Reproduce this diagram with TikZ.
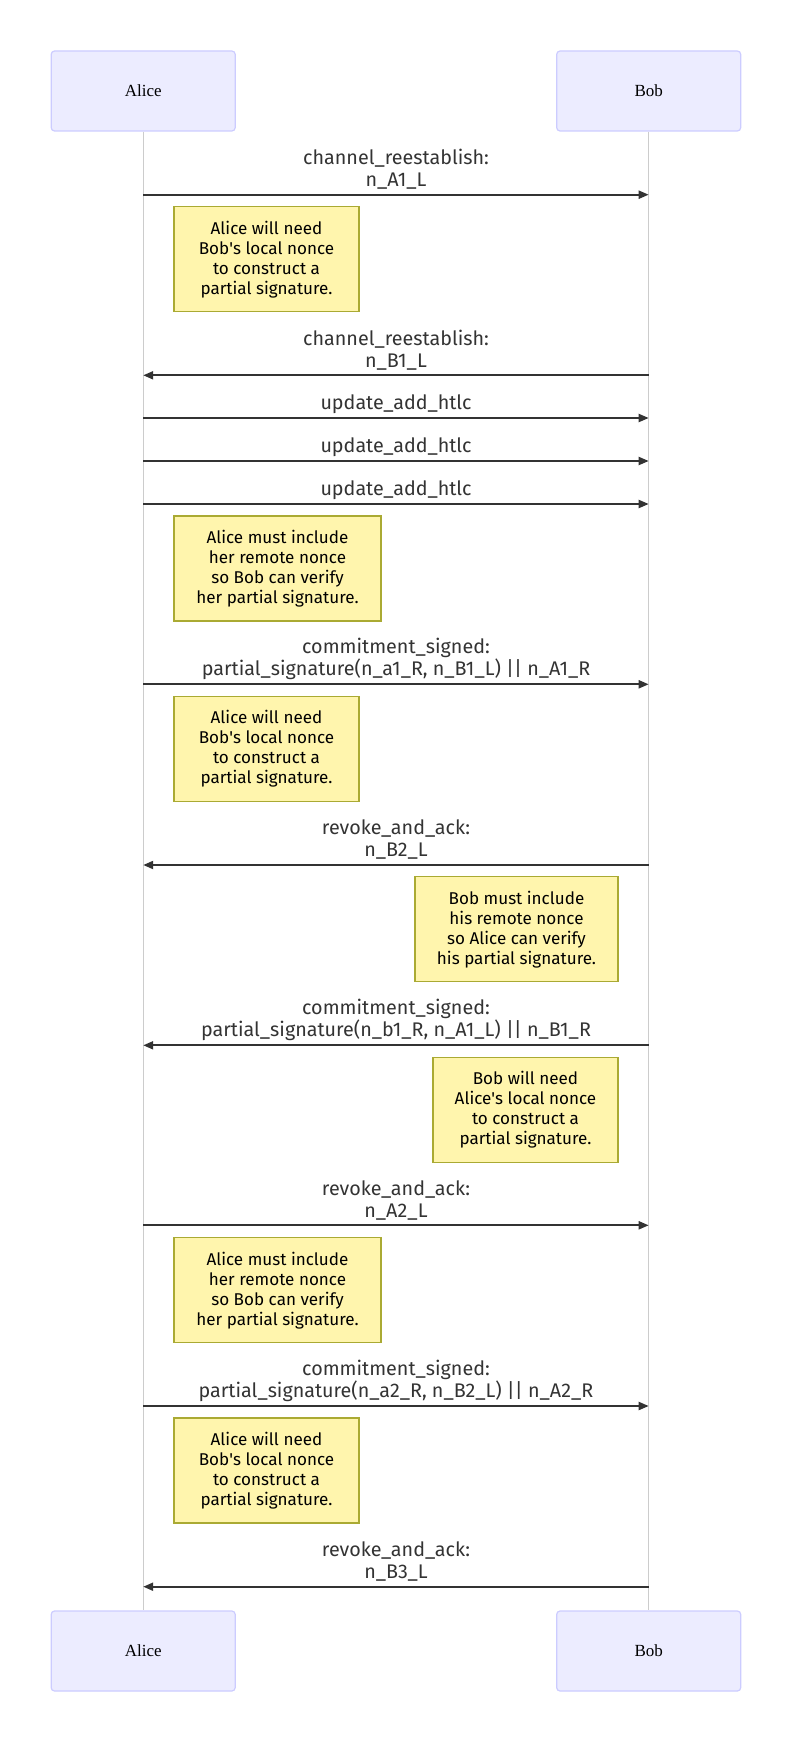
\documentclass[tikz,border=0pt]{standalone}
\usepackage{fontspec}
\setmainfont{Fira Sans}
\newfontfamily\actorfont{Liberation Serif}
\usetikzlibrary{arrows.meta}
\definecolor{actfill}{HTML}{ECECFF}
\definecolor{actline}{HTML}{CCCCFF}
\definecolor{notefill}{HTML}{FFF5AD}
\definecolor{noteline}{HTML}{AAAA33}
\definecolor{msgcol}{HTML}{333333}
\definecolor{lifecol}{HTML}{CCCCCC}
\begin{document}
\begin{tikzpicture}[x=0.75pt,y=-0.75pt,
  actor/.style={draw=actline, fill=actfill, line width=0.9pt, rounded corners=2.5pt,
    minimum width=138pt, minimum height=60pt, inner sep=0pt,
    font=\actorfont\fontsize{12.75pt}{15pt}\selectfont},
  lifeline/.style={draw=lifecol, line width=0.75pt},
  msg/.style={draw=msgcol, line width=1.5pt, -{Triangle[length=7.5pt,width=6pt]}},
  msglabel/.style={text=msgcol, align=center, inner sep=0pt,
    font=\fontsize{14.8pt}{16.5pt}\selectfont},
  note/.style={draw=noteline, fill=notefill, line width=0.9pt, minimum height=78.75pt,
    inner sep=0pt, align=center, font=\fontsize{12.8pt}{15pt}\selectfont},
  nsmall/.style={note, minimum width=138.75pt},
  nwide/.style={note, minimum width=155.25pt}
]
\useasboundingbox (0,0) rectangle (792,1741);

% actors
\node[actor] (aliceT) at (143.2,91) {Alice};
\node[actor] (bobT)   at (648.7,91) {Bob};
\node[actor] (aliceB) at (143.2,1651) {Alice};
\node[actor] (bobB)   at (648.7,1651) {Bob};

% lifelines
\draw[lifeline] (aliceT.south) -- (aliceB.north);
\draw[lifeline] (bobT.south) -- (bobB.north);

% message end points
\foreach \i/\y in {1/194.7,2/375.3,3/418,4/461,5/504,6/684.3,7/865,8/1045.3,9/1225.3,10/1406,11/1586.7}{
  \coordinate (a\i) at (143.2,\y);
  \coordinate (b\i) at (648.7,\y);
}

% messages
\draw[msg] (a1) -- (b1);
\node[msglabel] (l1) at (396,169.2) {channel\_reestablish:\\n\_A1\_L};

\node[nsmall] (n1) at (266.5,259.2) {Alice will need\\Bob\textquotesingle s local nonce\\to construct a\\partial signature.};

\draw[msg] (b2) -- (a2);
\node[msglabel] (l2) at (396,350.5) {channel\_reestablish:\\n\_B1\_L};

\draw[msg] (a3) -- (b3);
\node[msglabel] (l3) at (396,404) {update\_add\_htlc};

\draw[msg] (a4) -- (b4);
\node[msglabel] (l4) at (396,446.7) {update\_add\_htlc};

\draw[msg] (a5) -- (b5);
\node[msglabel] (l5) at (396,490) {update\_add\_htlc};

\node[nwide] (n2) at (277.5,568.5) {Alice must include\\her remote nonce\\so Bob can verify\\her partial signature.};

\draw[msg] (a6) -- (b6);
\node[msglabel] (l6) at (396,658.8) {commitment\_signed:\\partial\_signature(n\_a1\_R, n\_B1\_L) || n\_A1\_R};

\node[nsmall] (n3) at (266.5,748.7) {Alice will need\\Bob\textquotesingle s local nonce\\to construct a\\partial signature.};

\draw[msg] (b7) -- (a7);
\node[msglabel] (l7) at (396,839.2) {revoke\_and\_ack:\\n\_B2\_L};

\node[note, minimum width=152.25pt] (n4) at (516.5,929.2) {Bob must include\\his remote nonce\\so Alice can verify\\his partial signature.};

\draw[msg] (b8) -- (a8);
\node[msglabel] (l8) at (396,1019.7) {commitment\_signed:\\partial\_signature(n\_b1\_R, n\_A1\_L) || n\_B1\_R};

\node[nsmall] (n5) at (525.5,1109.7) {Bob will need\\Alice\textquotesingle s local nonce\\to construct a\\partial signature.};

\draw[msg] (a9) -- (b9);
\node[msglabel] (l9) at (396,1200.2) {revoke\_and\_ack:\\n\_A2\_L};

\node[nwide] (n6) at (277.5,1290.2) {Alice must include\\her remote nonce\\so Bob can verify\\her partial signature.};

\draw[msg] (a10) -- (b10);
\node[msglabel] (l10) at (396,1380.7) {commitment\_signed:\\partial\_signature(n\_a2\_R, n\_B2\_L) || n\_A2\_R};

\node[nsmall] (n7) at (266.5,1470.5) {Alice will need\\Bob\textquotesingle s local nonce\\to construct a\\partial signature.};

\draw[msg] (b11) -- (a11);
\node[msglabel] (l11) at (396,1561.2) {revoke\_and\_ack:\\n\_B3\_L};
\end{tikzpicture}
\end{document}
